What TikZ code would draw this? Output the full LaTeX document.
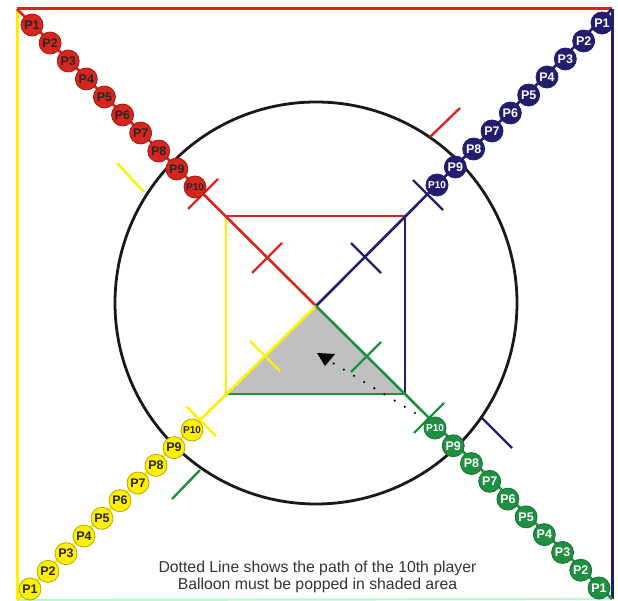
\documentclass[tikz,border=0pt]{standalone}
\usepackage{fontspec}
\setmainfont{Liberation Sans}
\usetikzlibrary{calc}
\definecolor{cred}{HTML}{D7261E}
\definecolor{credd}{HTML}{9E1A12}
\definecolor{cblue}{HTML}{231D6E}
\definecolor{cgreen}{HTML}{1E9040}
\definecolor{cgreend}{HTML}{16703A}
\definecolor{cyel}{HTML}{FFF000}
\definecolor{cyeld}{HTML}{B5A800}
\definecolor{cmint}{HTML}{BFF5D5}
\definecolor{cshade}{HTML}{C0C0C0}
\definecolor{ctext}{HTML}{333333}
\tikzset{
  lane/.style={line width=2.6pt},
  frame/.style={line width=3pt},
  tick/.style={line width=2.4pt},
  ball/.style={circle, minimum size=22pt, inner sep=0pt, line width=0.8pt,
    font=\fontsize{12.5}{12.5}\selectfont\bfseries},
  ballR/.style={ball, fill=cred, draw=credd, text=black!85},
  ballB/.style={ball, fill=cblue, draw=cblue, text=white},
  ballG/.style={ball, fill=cgreen, draw=cgreend, text=white},
  ballY/.style={ball, fill=cyel, draw=cyeld, text=black!85},
}
\newcommand{\plab}[1]{\ifnum#1=10 {\fontsize{10}{10}\selectfont P#1}\else P#1\fi}
\begin{document}
\begin{tikzpicture}[x=1pt,y=-1pt]
\useasboundingbox (0,0) rectangle (618,601);
% key points
\coordinate (TL) at (17,9);
\coordinate (TR) at (612,9);
\coordinate (BL) at (17,600);
\coordinate (BR) at (612,599);
\coordinate (C) at (316,306);
\coordinate (sTL) at (226,216);
\coordinate (sTR) at (405,216);
\coordinate (sBR) at (405,394);
\coordinate (sBL) at (226,394);
% shaded triangle
\fill[cshade] (sBL) -- (C) -- (sBR) -- cycle;
% outer frame
\draw[frame, cmint, line width=2.2pt] (BL) -- (BR);
\draw[frame, cred] (TL) -- (TR);
\draw[frame, cyel] (TL) -- (BL);
\draw[frame, cblue] (TR) -- (BR);
% inner square
\draw[lane, cred] (sTL) -- (sTR);
\draw[lane, cblue] (sTR) -- (sBR);
\draw[lane, cgreen] (sBR) -- (sBL);
\draw[lane, cyel] (sBL) -- (sTL);
% diagonals
\draw[lane, cred] (TL) -- (C);
\draw[lane, cblue] (TR) -- (C);
\draw[lane, cyel] (BL) -- (C);
\draw[lane, cgreen] (BR) -- (C);
% circle
\draw[line width=2.8pt, black!90] (316,303) circle[radius=201];
% cross ticks on the diagonals
\draw[tick, cred] ($(C)+(-113,-112)+(-15,15)$) -- ($(C)+(-113,-112)+(15,-15)$);
\draw[tick, cred] ($(C)+(-49,-48)+(-15,15)$) -- ($(C)+(-49,-48)+(15,-15)$);
\draw[tick, cblue] ($(C)+(112,-111)+(-15,-15)$) -- ($(C)+(112,-111)+(15,15)$);
\draw[tick, cblue] ($(C)+(50,-48)+(-15,-15)$) -- ($(C)+(50,-48)+(15,15)$);
\draw[tick, cyel] ($(C)+(-115,115)+(-15,-15)$) -- ($(C)+(-115,115)+(15,15)$);
\draw[tick, cyel] ($(C)+(-51,50)+(-15,-15)$) -- ($(C)+(-51,50)+(15,15)$);
\draw[tick, cgreen] ($(C)+(113,112)+(-15,15)$) -- ($(C)+(113,112)+(15,-15)$);
\draw[tick, cgreen] ($(C)+(50,51)+(-15,15)$) -- ($(C)+(50,51)+(15,-15)$);
% ticks outside the circle
\draw[tick, cyel] (117,163) -- (144,192);
\draw[tick, cred] (460,108) -- (430,137);
\draw[tick, cblue] (482,418) -- (512,448);
\draw[tick, cgreen] (200,470) -- (172,499);
% player balls
\coordinate (r1) at (32,25);   \coordinate (r10) at (195,187);
\coordinate (b1) at (602,23);  \coordinate (b10) at (437,185);
\coordinate (y1) at (30,589);  \coordinate (y10) at (192,430);
\coordinate (g1) at (599,588); \coordinate (g10) at (435,428);
\foreach \k in {1,...,10}{
  \pgfmathsetmacro\tt{(\k-1)/9}
  \node[ballR] (pr\k) at ($(r1)!\tt!(r10)$) {\plab{\k}};
  \node[ballB] (pb\k) at ($(b1)!\tt!(b10)$) {\plab{\k}};
  \node[ballY] (py\k) at ($(y1)!\tt!(y10)$) {\plab{\k}};
  \node[ballG] (pg\k) at ($(g1)!\tt!(g10)$) {\plab{\k}};
}
% dotted path of the 10th player
\coordinate (dS) at (415,413);
\coordinate (dE) at (333,363);
\draw[black, line width=2.4pt, line cap=round, dash pattern=on 0pt off 11.9pt] (dS) -- (dE);
\fill[black] (317,353) -- (335,354) -- (325,366) -- cycle;
% caption
\node[text=ctext, align=center, font=\fontsize{15.8}{17}\selectfont] (cap) at (317.5,576.5)
  {Dotted Line shows the path of the 10th player\\Balloon must be popped in shaded area};
\end{tikzpicture}
\end{document}
